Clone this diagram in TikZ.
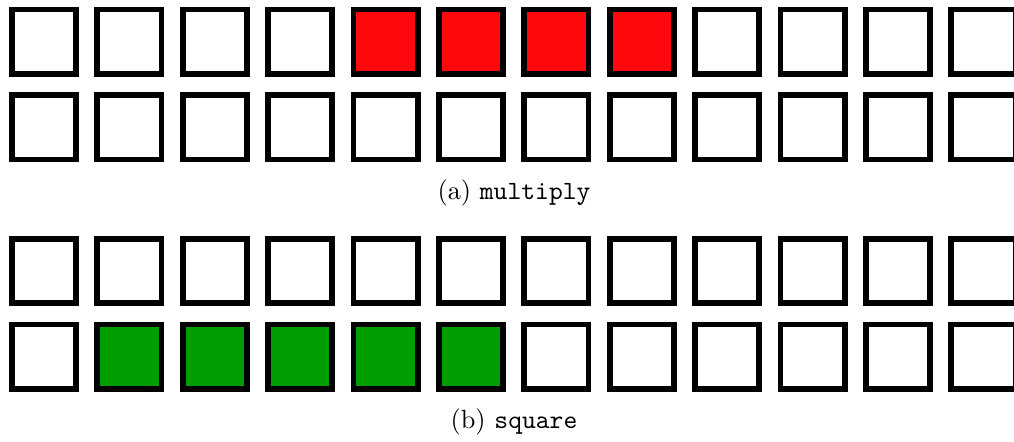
\documentclass[tikz,border=0pt]{standalone}
\usepackage{xcolor}
\usepackage{tikz}
\definecolor{figR}{RGB}{255,8,12}
\definecolor{figG}{RGB}{0,158,0}
\tikzset{cell/.style={draw, line width=2.2pt, minimum size=24.4pt, inner sep=0pt}}

\begin{document}
\begin{tikzpicture}[x=0.38pt, y=0.38pt]
  \clip (0,0) rectangle (1014,441);
  \foreach \i in {0,...,11} {
    \pgfmathsetmacro{\cx}{44+85.4*\i}
    \def\f{white}
    \ifnum\i>3 \ifnum\i<8 \def\f{figR}\fi\fi
    \node[cell, fill=\f] (ma\i) at (\cx,399.5) {};
    \node[cell] (mb\i) at (\cx,313.7) {};
    \def\f{white}
    \ifnum\i>0 \ifnum\i<6 \def\f{figG}\fi\fi
    \node[cell] (sa\i) at (\cx,169.8) {};
    \node[cell, fill=\f] (sb\i) at (\cx,84.5) {};
  }
  \node (capa) at (514,248) {(a) \texttt{multiply}};
  \node (capb) at (514,19) {(b) \texttt{square}};
\end{tikzpicture}
\end{document}
